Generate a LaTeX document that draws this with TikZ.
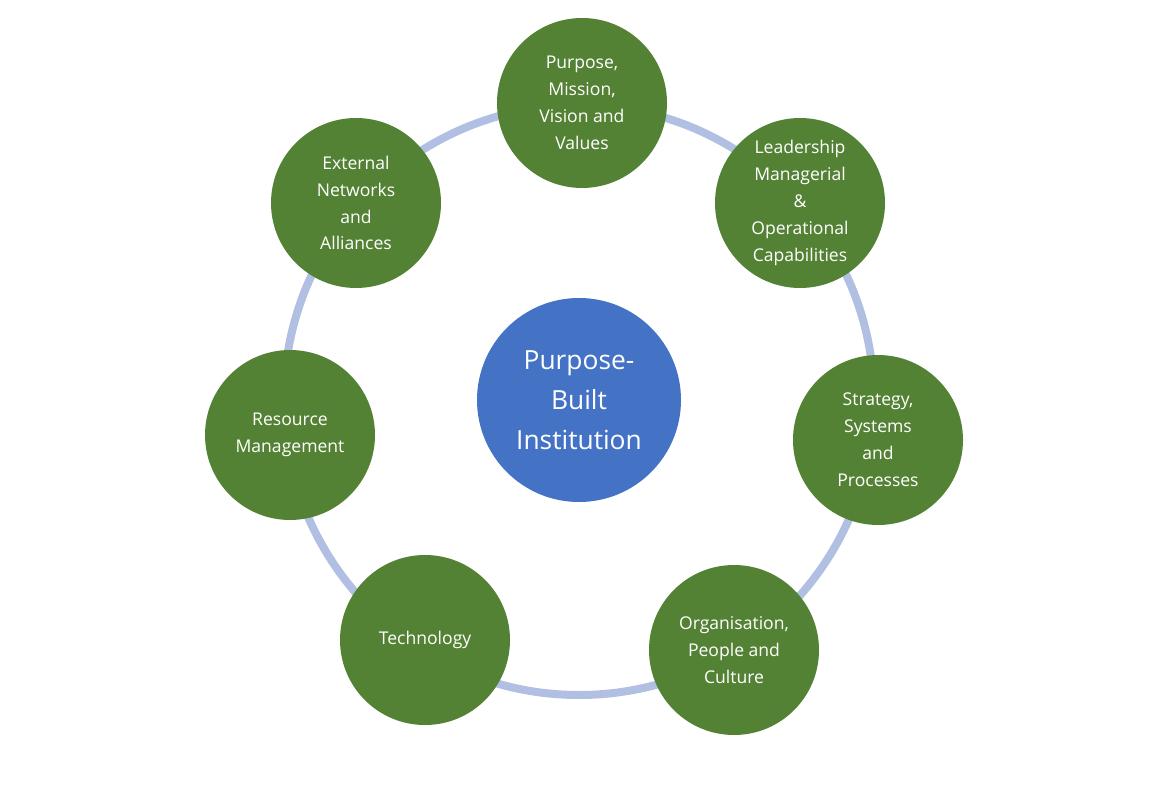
\documentclass[tikz,border=0pt]{standalone}
\usepackage{fontspec}
\setmainfont{Open Sans}
\definecolor{folha}{HTML}{548235}
\definecolor{azul}{HTML}{4472C4}
\definecolor{anel}{HTML}{B0BFE2}
\tikzset{
  pilar/.style={circle, fill=folha, minimum size=3.4cm, inner sep=0pt, text=white,
    align=center, font=\fontsize{10}{15.3}\selectfont},
  nucleo/.style={circle, fill=azul, minimum size=4.08cm, inner sep=0pt, text=white,
    align=center, font=\fontsize{15}{22.7}\selectfont}
}
\begin{document}
\begin{tikzpicture}
    \useasboundingbox (0,0) rectangle (23.04,-16);

    % Centro do anel
    \coordinate (O) at (11.58,-8);

    % Anel de ligação
    \draw[anel, line width=0.16cm] (O) circle (5.9);

    % Círculo central
    \node[nucleo] (inst) at (O) {Purpose-\\Built\\Institution};

    % Pilares em volta
    \node[pilar] (prop) at (11.64,-2.06) {Purpose,\\Mission,\\Vision and\\Values};
    \node[pilar] (lider) at (16.0,-4.06) {Leadership\\Managerial\\\&\\Operational\\Capabilities};
    \node[pilar] (estr) at (17.56,-8.8) {Strategy,\\Systems\\and\\Processes};
    \node[pilar] (org) at (14.68,-13.0) {Organisation,\\People and\\Culture};
    \node[pilar] (tec) at (8.5,-12.8) {Technology};
    \node[pilar] (rec) at (5.8,-8.7) {Resource\\Management};
    \node[pilar] (ext) at (7.12,-4.06) {External\\Networks\\and\\Alliances};

\end{tikzpicture}
\end{document}
